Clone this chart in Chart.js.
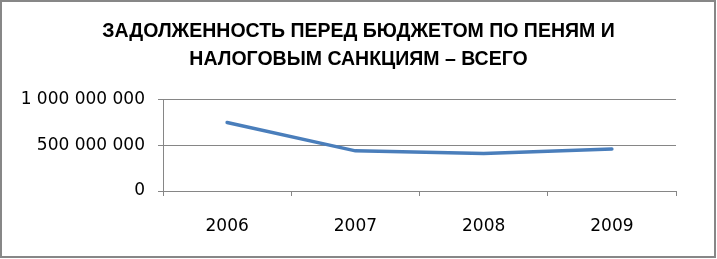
<!DOCTYPE html>
<html>
<head>
<meta charset="utf-8">
<script src="https://cdn.jsdelivr.net/npm/chart.js@4"></script>
<style>
  html, body { margin: 0; padding: 0; background: #fff; }
  #wrap { width: 717px; height: 259px; }
</style>
</head>
<body>
<div id="wrap"><canvas id="chart" width="717" height="259"></canvas></div>
<script>
// данные с картинки
const years = ['2006', '2007', '2008', '2009'];
const debt = [748000000, 438000000, 410000000, 458000000];
const yTicks = [0, 500000000, 1000000000];
const titleLines = ['ЗАДОЛЖЕННОСТЬ ПЕРЕД БЮДЖЕТОМ ПО ПЕНЯМ И', 'НАЛОГОВЫМ САНКЦИЯМ – ВСЕГО'];

const gridColor = '#868686';

// пробелы между разрядами, как в Excel
function fmt(v) {
    return String(v).replace(/\B(?=(\d{3})+(?!\d))/g, ' ');
}

// рамка вокруг всей диаграммы
const frame = {
    id: 'frame',
    afterDraw(chart) {
        const c = chart.ctx;
        c.save();
        c.strokeStyle = '#878787';
        c.lineWidth = 2;
        c.strokeRect(1, 1, 714, 256);
        c.restore();
    }
};

const ctx = document.getElementById('chart').getContext('2d');
new Chart(ctx, {
    type: 'line',
    data: {
        labels: years,
        datasets: [{
            data: debt,
            borderColor: '#4A7EBB',
            borderWidth: 3.5,
            borderCapStyle: 'round',
            pointRadius: 0,
            tension: 0
        }]
    },
    options: {
        responsive: false,
        animation: false,
        layout: { padding: 0 },
        plugins: {
            legend: { display: false },
            tooltip: { enabled: false },
            title: {
                display: true,
                text: titleLines,
                color: '#000',
                font: { family: 'Liberation Sans', size: 19.5, weight: 'bold', lineHeight: 1.47 },
                padding: { top: 17, bottom: 25 }
            }
        },
        scales: {
            x: {
                offset: true,
                grid: {
                    offset: true,
                    drawOnChartArea: false,
                    color: gridColor,
                    tickLength: 5
                },
                border: { color: gridColor },
                ticks: {
                    color: '#000',
                    padding: 20,
                    maxRotation: 0,
                    font: { family: 'DejaVu Sans', size: 17 }
                },
                afterFit(scale) { scale.height = 68; }
            },
            y: {
                min: 0,
                max: 1000000000,
                afterBuildTicks(scale) {
                    scale.ticks = yTicks.map(v => ({ value: v }));
                },
                grid: { color: gridColor, tickLength: 5 },
                border: { color: gridColor },
                ticks: {
                    color: '#000',
                    padding: 13,
                    font: { family: 'DejaVu Sans', size: 17 },
                    callback: v => fmt(v)
                },
                afterFit(scale) { scale.width = 163; }
            },
            // пустая ось справа — только отступ, чтобы заголовок был по центру всей диаграммы
            yPad: {
                position: 'right',
                min: 0,
                max: 1000000000,
                grid: { display: false },
                border: { display: false },
                ticks: { display: false },
                afterFit(scale) { scale.width = 41; }
            }
        }
    },
    plugins: [frame]
});
</script>
</body>
</html>
